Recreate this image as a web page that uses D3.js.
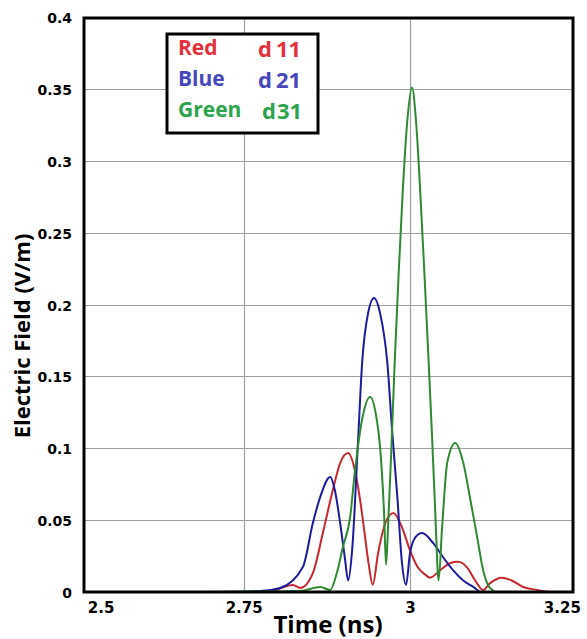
<!DOCTYPE html>
<html>
<head>
<meta charset="utf-8">
<script src="https://cdn.jsdelivr.net/npm/d3@7"></script>
<style>
  body { margin: 0; background: #fff; }
  .tick text { font-family: "DejaVu Sans", sans-serif; font-weight: bold; fill: #000; }
</style>
</head>
<body>
<div id="chart"></div>
<script>
// ---- data ----
var xTicks = [2.5, 2.75, 3, 3.25];
var yTicks = [0, 0.05, 0.1, 0.15, 0.2, 0.25, 0.3, 0.35, 0.4];

var tRed = [2.750, 2.790, 2.824, 2.835, 2.854, 2.869, 2.884, 2.895, 2.907, 2.917, 2.925, 2.932, 2.938, 2.944,
            2.952, 2.963, 2.975, 2.988, 3.000, 3.012, 3.023, 3.030, 3.045, 3.060, 3.072, 3.086, 3.098,
            3.110, 3.120, 3.138, 3.153, 3.170, 3.191, 3.210];
var eRed = [0, 0.0007, 0.0049, 0.0028, 0.0132, 0.041, 0.071, 0.0897, 0.0967, 0.085, 0.064, 0.040, 0.019, 0.005,
            0.027, 0.048, 0.055, 0.045, 0.029, 0.017, 0.012, 0.010, 0.015, 0.020, 0.021, 0.017, 0.008,
            0.0014, 0.006, 0.010, 0.008, 0.0035, 0.0014, 0];

var tBlue = [2.685, 2.775, 2.805, 2.839, 2.854, 2.865, 2.880, 2.887, 2.895, 2.902, 2.907, 2.913, 2.922, 2.928,
             2.937, 2.946, 2.955, 2.966, 2.973, 2.981, 2.988, 2.994, 3.000, 3.008, 3.018, 3.035, 3.050,
             3.065, 3.080, 3.095, 3.108, 3.135];
var eBlue = [0, 0.0007, 0.0028, 0.0174, 0.048, 0.066, 0.080, 0.071, 0.048, 0.024, 0.008, 0.029, 0.106, 0.159,
             0.194, 0.2045, 0.194, 0.159, 0.113, 0.066, 0.020, 0.005, 0.027, 0.038, 0.041, 0.034, 0.024,
             0.015, 0.008, 0.0035, 0, 0];

var tGreen = [2.685, 2.835, 2.865, 2.880, 2.890, 2.899, 2.910, 2.917, 2.928, 2.940, 2.950, 2.955, 2.961, 2.964,
              2.967, 2.972, 2.977, 2.983, 2.989, 2.996, 3.003, 3.009, 3.015, 3.021, 3.027, 3.033, 3.038,
              3.043, 3.048, 3.056, 3.068, 3.080, 3.090, 3.101, 3.110, 3.120, 3.131, 3.225];
var eGreen = [0, 0.0007, 0.0035, 0.0014, 0.0132, 0.031, 0.052, 0.083, 0.120, 0.1357, 0.120, 0.101, 0.055, 0.019,
              0.045, 0.100, 0.160, 0.222, 0.278, 0.328, 0.351, 0.328, 0.282, 0.228, 0.170, 0.110, 0.055,
              0.008, 0.043, 0.090, 0.1037, 0.090, 0.066, 0.038, 0.015, 0.003, 0, 0];

var seriesNames = ["Red", "Blue", "Green"];
var seriesTags = ["d11", "d21", "d31"];
var lineColors = ["#c8282e", "#1c1ca0", "#2e8a30"];
var textColors = ["#e5303c", "#4646bd", "#2ca44c"];

// ---- layout ----
var W = 587, H = 639;
var plot = {left: 84, right: 573, top: 17, bottom: 592};

var svg = d3.select("#chart").append("svg")
  .attr("width", W)
  .attr("height", H);

var x = d3.scaleLinear().domain([2.51, 3.245]).range([plot.left, plot.right]);
var y = d3.scaleLinear().domain([0, 0.4]).range([plot.bottom, plot.top]);

// grid
svg.append("g").selectAll("line.hg")
  .data(yTicks.filter(function(d) { return d > 0 && d < 0.4; }))
  .enter().append("line")
  .attr("x1", plot.left).attr("x2", plot.right)
  .attr("y1", function(d) { return Math.round(y(d)) + 0.5; })
  .attr("y2", function(d) { return Math.round(y(d)) + 0.5; })
  .attr("stroke", "#a0a0a0").attr("stroke-width", 1.2);

svg.append("g").selectAll("line.vg")
  .data(xTicks.filter(function(d) { return d > 2.5 && d < 3.25; }))
  .enter().append("line")
  .attr("x1", function(d) { return Math.round(x(d)) + 0.5; })
  .attr("x2", function(d) { return Math.round(x(d)) + 0.5; })
  .attr("y1", plot.top).attr("y2", plot.bottom)
  .attr("stroke", "#a0a0a0").attr("stroke-width", 1.2);

// clip
svg.append("clipPath").attr("id", "clip")
  .append("rect")
  .attr("x", plot.left).attr("y", plot.top - 2)
  .attr("width", plot.right - plot.left).attr("height", plot.bottom - plot.top + 2);

var series = [
  {t: tRed, e: eRed},
  {t: tBlue, e: eBlue},
  {t: tGreen, e: eGreen}
];

var line = d3.line()
  .curve(d3.curveMonotoneX)
  .x(function(d) { return x(d[0]); })
  .y(function(d) { return y(d[1]); });

// draw in the order red, blue, green (green on top)
svg.append("g").attr("clip-path", "url(#clip)")
  .selectAll("path")
  .data(series)
  .enter().append("path")
  .attr("d", function(s) { return line(d3.zip(s.t, s.e)); })
  .attr("fill", "none")
  .attr("stroke", function(s, i) { return lineColors[i]; })
  .attr("stroke-width", 2);

// frame
svg.append("rect")
  .attr("x", plot.left).attr("y", plot.top + 1)
  .attr("width", plot.right - plot.left).attr("height", plot.bottom - plot.top - 1)
  .attr("fill", "none").attr("stroke", "#000").attr("stroke-width", 3);

// axes
var xAxis = d3.axisBottom(x).tickValues(xTicks).tickSize(0).tickPadding(10)
  .tickFormat(function(d) { return String(d); });
var gx = svg.append("g")
  .attr("transform", "translate(0," + plot.bottom + ")")
  .call(xAxis);
gx.select(".domain").remove();
gx.selectAll("text").style("font-size", "15px");
gx.selectAll(".tick text")
  .attr("text-anchor", function(d) { return d === 2.5 ? "start" : d === 3.25 ? "end" : "middle"; })
  .attr("dx", function(d) { return d === 2.5 ? 10 : d === 3.25 ? 4 : 0; });

var yAxis = d3.axisLeft(y).tickValues(yTicks).tickSize(0).tickPadding(12)
  .tickFormat(function(d) { return String(d); });
var gy = svg.append("g")
  .attr("transform", "translate(" + plot.left + ",0)")
  .call(yAxis);
gy.select(".domain").remove();
gy.selectAll("text").style("font-size", "14px").attr("dy", "0.4em");

// axis titles
svg.append("text")
  .attr("x", 328)
  .attr("y", 633)
  .attr("text-anchor", "middle")
  .style("font-family", "'Open Sans', sans-serif")
  .style("font-weight", "bold")
  .style("font-size", "24px")
  .text("Time (ns)");

svg.append("text")
  .attr("transform", "translate(30,336) rotate(-90)")
  .attr("text-anchor", "middle")
  .style("font-family", "'Open Sans', sans-serif")
  .style("font-weight", "bold")
  .style("font-size", "22px")
  .text("Electric Field (V/m)");

// legend
var lg = svg.append("g");
lg.append("rect")
  .attr("x", 167).attr("y", 34)
  .attr("width", 151).attr("height", 99)
  .attr("fill", "#fff").attr("stroke", "#000").attr("stroke-width", 3);

seriesNames.forEach(function(name, i) {
  lg.append("text")
    .attr("x", 178).attr("y", 55 + i * 31)
    .style("font-family", "'Open Sans', sans-serif")
    .style("font-weight", "bold")
    .style("font-size", "21px")
    .attr("fill", textColors[i])
    .text(name);
  var tag = lg.append("text")
    .attr("x", i === 2 ? 262 : 258).attr("y", 57 + i * 31)
    .style("font-family", "'Open Sans', sans-serif")
    .style("font-weight", "bold")
    .style("font-size", "22px")
    .attr("fill", textColors[i]);
  tag.append("tspan").text(seriesTags[i].slice(0, 1));
  tag.append("tspan").attr("dx", i === 2 ? 1 : 4).text(seriesTags[i].slice(1));
});
</script>
</body>
</html>
